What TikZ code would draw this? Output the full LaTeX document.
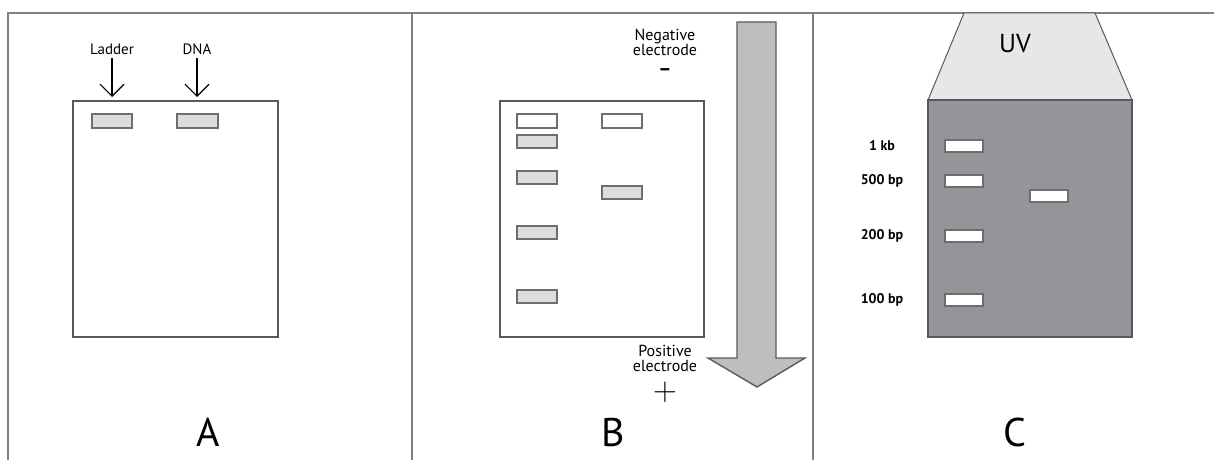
\documentclass[tikz,border=0pt]{standalone}
\usepackage{fontspec}
\setmainfont{PT Sans}
\newfontfamily\signfont{Latin Modern Roman}
\usetikzlibrary{arrows.meta}

\definecolor{framegray}{HTML}{808080}
\definecolor{gelline}{HTML}{58595B}
\definecolor{bandline}{HTML}{6D6E71}
\definecolor{bandfill}{HTML}{DCDDDE}
\definecolor{arrowfill}{HTML}{BCBEC0}
\definecolor{uvfill}{HTML}{E6E7E8}
\definecolor{gelfill}{HTML}{939598}

\begin{document}
\begin{tikzpicture}[x=1pt, y=-1pt,
  panel/.style={draw=framegray, line width=1.8pt},
  gel/.style={draw=gelline, line width=1.2pt},
  band/.style={draw=bandline, line width=1.4pt, fill=bandfill},
  glow/.style={draw=bandline, line width=1.2pt, fill=white},
  lane/.style={font=\fontsize{15}{17}\selectfont},
  electrode/.style={font=\fontsize{16}{19}\selectfont, align=center},
  sizelabel/.style={font=\bfseries\fontsize{14}{16}\selectfont},
  letter/.style={font=\fontsize{40}{44}\selectfont},
  drop/.style={-{Straight Barb[length=12pt, width=24pt]}, line width=1.1pt}]
  \useasboundingbox (0,0) rectangle (1214,460);

  % outer frame
  \draw[panel] (8,460) -- (8,13) -- (1214,13);
  \draw[panel] (412,13) -- (412,460);
  \draw[panel] (813,13) -- (813,460);

  % A: loading the wells
  \draw[gel] (73,101) rectangle (278,337);
  \node[lane] (ladder) at (112,49) {Ladder};
  \node[lane] (dna) at (197,49) {DNA};
  \coordinate (wellL) at (112,97);
  \coordinate (wellD) at (197,97);
  \draw[drop] (ladder.south) -- (wellL);
  \draw[drop] (dna.south) -- (wellD);
  \draw[band] (92,114) rectangle (132,128);
  \draw[band] (177,114) rectangle (218,128);
  \node[letter] (labA) at (208,432) {A};

  % B: running the gel
  \draw[draw=framegray!70!black, line width=1.4pt, fill=arrowfill]
    (737,22) -- (776,22) -- (776,358) -- (805,358) -- (757,387)
    -- (708,358) -- (737,358) -- cycle;
  \draw[gel] (500,101) rectangle (704,337);
  \draw[glow] (517,114) rectangle (557,128);
  \draw[glow] (602,114) rectangle (642,128);
  \foreach \y in {135, 171, 226, 290} {
    \draw[band] (517,\y) rectangle (557,\y+13);
  }
  \draw[band] (602,186) rectangle (642,199);
  \node[electrode] (neg) at (665,42) {Negative\\[-4pt]electrode};
  \node[font=\bfseries\fontsize{20}{20}\selectfont] (minus) at (665,72) {--};
  \node[electrode] (pos) at (665,358) {Positive\\[-4pt]electrode};
  \node[font=\signfont\fontsize{33}{33}\selectfont] (plus) at (665,392) {+};
  \node[letter] (labB) at (613,432) {B};

  % C: viewing under UV
  \draw[draw=gelline, line width=1pt, fill=uvfill]
    (964,13) -- (1095,13) -- (1132,100) -- (928,100) -- cycle;
  \node[font=\fontsize{26}{28}\selectfont] (uv) at (1015,44) {UV};
  \draw[gel, fill=gelfill] (928,100) rectangle (1132,337);
  \foreach \y/\size in {140/1 kb, 175/500 bp, 230/200 bp, 294/100 bp} {
    \draw[glow] (945,\y) rectangle (983,\y+12);
    \node[sizelabel] at (882,\y+6) {\size};
  }
  \draw[glow] (1030,190) rectangle (1068,202);
  \node[letter] (labC) at (1015,432) {C};
\end{tikzpicture}
\end{document}
